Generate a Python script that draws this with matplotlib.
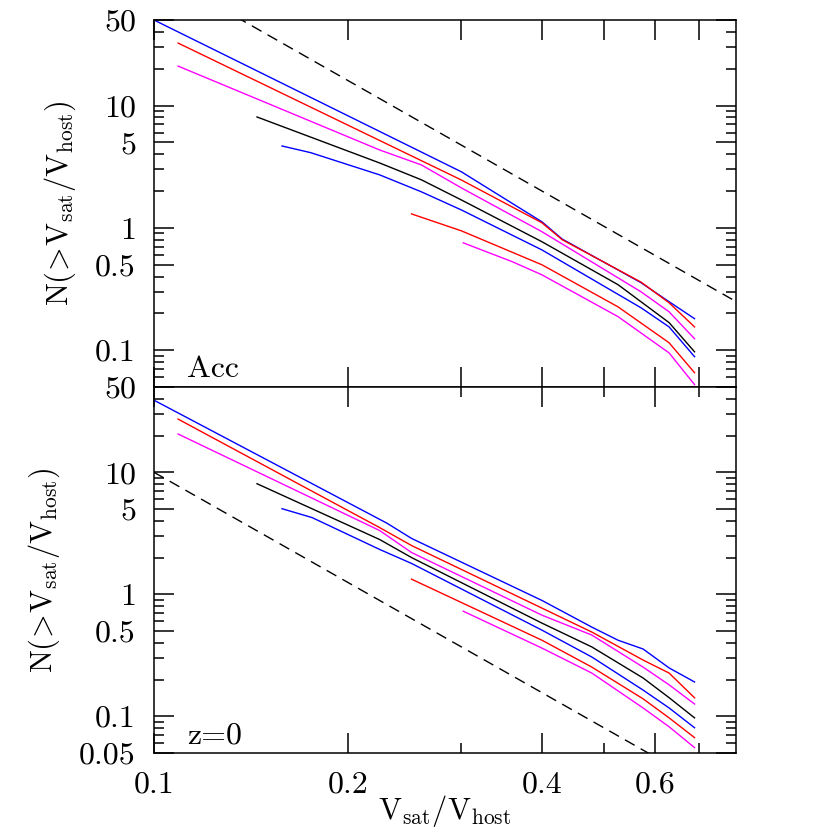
import matplotlib
matplotlib.use("Agg")
from matplotlib import pyplot as plt
from matplotlib.ticker import FixedLocator, FixedFormatter, NullFormatter

# accretion-time velocity function (top panel)
acc_x_blue1 = [0.10, 0.30, 0.40, 0.43, 0.57, 0.63, 0.69]
acc_n_blue1 = [50, 2.87, 1.12, 0.81, 0.356, 0.249, 0.181]
acc_x_red1 = [0.109, 0.30, 0.40, 0.43, 0.57, 0.63, 0.69]
acc_n_red1 = [32.4, 2.46, 1.10, 0.80, 0.36, 0.244, 0.155]
acc_x_mag1 = [0.109, 0.224, 0.26, 0.30, 0.40, 0.57, 0.63, 0.69]
acc_n_mag1 = [21, 4.33, 3.27, 2.12, 0.93, 0.30, 0.206, 0.124]
acc_x_black = [0.1445, 0.224, 0.26, 0.30, 0.40, 0.525, 0.63, 0.69]
acc_n_black = [8.06, 3.39, 2.47, 1.69, 0.77, 0.343, 0.168, 0.097]
acc_x_blue2 = [0.158, 0.175, 0.224, 0.26, 0.30, 0.40, 0.57, 0.63, 0.69]
acc_n_blue2 = [4.67, 4.12, 2.71, 1.97, 1.40, 0.66, 0.222, 0.155, 0.0885]
acc_x_red2 = [0.251, 0.30, 0.40, 0.525, 0.63, 0.69]
acc_n_red2 = [1.30, 0.945, 0.499, 0.226, 0.115, 0.0655]
acc_x_mag2 = [0.302, 0.36, 0.40, 0.525, 0.63, 0.69]
acc_n_mag2 = [0.754, 0.528, 0.413, 0.188, 0.095, 0.0523]
acc_x_dash = [0.1, 0.8]
acc_n_dash = [128, 0.25]

# z=0 velocity function (bottom panel)
z0_x_blue1 = [0.10, 0.23, 0.251, 0.40, 0.478, 0.525, 0.574, 0.63, 0.69]
z0_n_blue1 = [39, 3.82, 2.87, 0.89, 0.538, 0.42, 0.356, 0.249, 0.191]
z0_x_red1 = [0.109, 0.224, 0.251, 0.40, 0.478, 0.574, 0.63, 0.69]
z0_n_red1 = [27.3, 3.52, 2.51, 0.77, 0.49, 0.289, 0.226, 0.1416]
z0_x_mag1 = [0.109, 0.224, 0.251, 0.40, 0.478, 0.574, 0.63, 0.69]
z0_n_mag1 = [20.6, 3.33, 2.2, 0.674, 0.463, 0.253, 0.181, 0.126]
z0_x_black = [0.1445, 0.224, 0.251, 0.40, 0.478, 0.574, 0.63, 0.69]
z0_n_black = [8.06, 2.81, 2.0, 0.58, 0.37, 0.206, 0.142, 0.097]
z0_x_blue2 = [0.158, 0.176, 0.224, 0.251, 0.40, 0.478, 0.574, 0.63, 0.69]
z0_n_blue2 = [5.03, 4.25, 2.33, 1.79, 0.508, 0.306, 0.164, 0.117, 0.0805]
z0_x_red2 = [0.251, 0.40, 0.478, 0.574, 0.63, 0.69]
z0_n_red2 = [1.33, 0.42, 0.253, 0.139, 0.097, 0.0668]
z0_x_mag2 = [0.302, 0.40, 0.478, 0.574, 0.63, 0.69]
z0_n_mag2 = [0.726, 0.362, 0.226, 0.117, 0.082, 0.0553]
z0_x_dash = [0.1, 0.8]
z0_n_dash = [10, 0.0195]

x_major = [0.1, 0.2, 0.4, 0.6]
x_minor = [0.3, 0.5, 0.7]
y_major = [0.05, 0.1, 0.5, 1, 5, 10, 50]
y_labels_top = ["", "0.1", "0.5", "1", "5", "10", "50"]
y_labels_bot = ["0.05", "0.1", "0.5", "1", "5", "10", "50"]
y_minor = [0.06, 0.07, 0.08, 0.09, 0.2, 0.3, 0.4, 0.6, 0.7, 0.8, 0.9,
           2, 3, 4, 6, 7, 8, 9, 20, 30, 40]

plt.rcParams["font.family"] = "cmr10"
plt.rcParams["mathtext.fontset"] = "cm"
plt.rcParams["axes.formatter.use_mathtext"] = True

fig = plt.figure(figsize=(8.3, 8.3), dpi=100)
ax_top = fig.add_axes([0.1855, 0.5337, 0.7012, 0.4422])
ax_bot = fig.add_axes([0.1855, 0.0928, 0.7012, 0.4409])

lw = 1.0
dash = (0, (8, 5))


def draw(ax, curves, dashed):
    for xs, ns, col in curves:
        ax.plot(xs, ns, color=col, lw=lw)
    ax.plot(dashed[0], dashed[1], color="black", lw=lw, linestyle=dash)


draw(ax_top, [
    (acc_x_blue1, acc_n_blue1, "#0000ff"),
    (acc_x_red1, acc_n_red1, "#ff0000"),
    (acc_x_mag1, acc_n_mag1, "#ff00ff"),
    (acc_x_black, acc_n_black, "black"),
    (acc_x_blue2, acc_n_blue2, "#0000ff"),
    (acc_x_red2, acc_n_red2, "#ff0000"),
    (acc_x_mag2, acc_n_mag2, "#ff00ff"),
], (acc_x_dash, acc_n_dash))

draw(ax_bot, [
    (z0_x_blue1, z0_n_blue1, "#0000ff"),
    (z0_x_red1, z0_n_red1, "#ff0000"),
    (z0_x_mag1, z0_n_mag1, "#ff00ff"),
    (z0_x_black, z0_n_black, "black"),
    (z0_x_blue2, z0_n_blue2, "#0000ff"),
    (z0_x_red2, z0_n_red2, "#ff0000"),
    (z0_x_mag2, z0_n_mag2, "#ff00ff"),
], (z0_x_dash, z0_n_dash))

fs = 23
fs_lab = 22
ylab = r"$\mathrm{N(}\!>\!\mathrm{V_{sat}/V_{host})}$"
for ax, ylabs in [(ax_top, y_labels_top), (ax_bot, y_labels_bot)]:
    ax.set_xscale("log")
    ax.set_yscale("log")
    ax.set_xlim(0.1, 0.8)
    ax.set_ylim(0.05, 50)
    ax.yaxis.set_major_locator(FixedLocator(y_major))
    ax.yaxis.set_major_formatter(FixedFormatter(ylabs))
    ax.yaxis.set_minor_locator(FixedLocator(y_minor))
    ax.yaxis.set_minor_formatter(NullFormatter())
    ax.tick_params(which="both", direction="in", top=True, right=True,
                   width=1.1, labelsize=fs, pad=13)
    ax.tick_params(which="major", length=14.5)
    ax.tick_params(which="minor", length=7)
    for sp in ax.spines.values():
        sp.set_linewidth(1.1)
    ax.set_ylabel(ylab, fontsize=fs_lab, labelpad=12)

# top panel: every 0.1 gets a long tick, no labels
ax_top.xaxis.set_major_locator(FixedLocator(x_major + x_minor))
ax_top.xaxis.set_major_formatter(NullFormatter())
ax_top.xaxis.set_minor_locator(FixedLocator([]))

ax_bot.xaxis.set_major_locator(FixedLocator(x_major))
ax_bot.xaxis.set_major_formatter(FixedFormatter(["0.1", "0.2", "0.4", "0.6"]))
ax_bot.xaxis.set_minor_locator(FixedLocator(x_minor))
ax_bot.xaxis.set_minor_formatter(NullFormatter())
ax_bot.tick_params(axis="x", pad=13)
ax_bot.set_xlabel(r"$\mathrm{V_{sat}/V_{host}}$", fontsize=fs_lab, labelpad=-4)

ax_top.text(0.057, 0.027, "Acc", transform=ax_top.transAxes,
            fontsize=fs, va="baseline")
ax_bot.text(0.057, 0.027, "z=0", transform=ax_bot.transAxes,
            fontsize=fs, va="baseline")

plt.savefig("out.png", dpi=100)
